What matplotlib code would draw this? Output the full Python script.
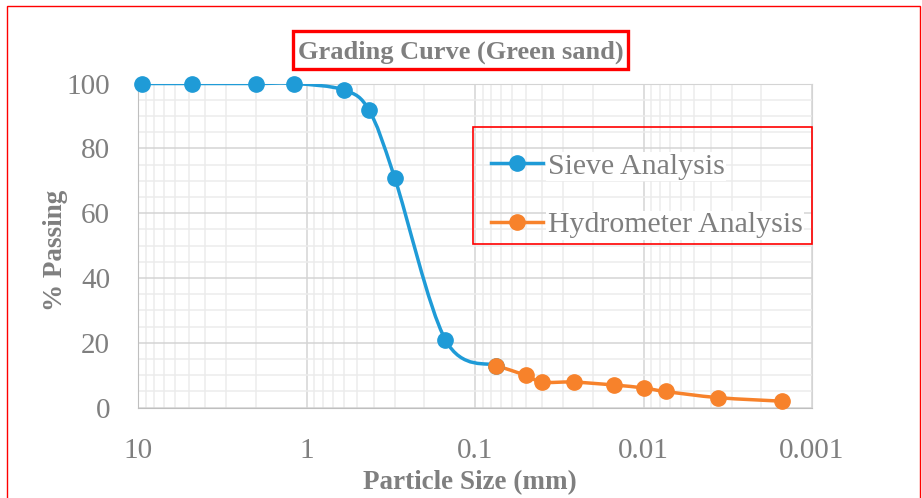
import numpy as np
import matplotlib
matplotlib.use("Agg")
from matplotlib import pyplot as plt
from matplotlib.path import Path
from matplotlib.patches import PathPatch, Rectangle
from matplotlib.lines import Line2D
from matplotlib.ticker import LogLocator, FixedLocator, NullFormatter

# Sieve analysis (particle size in mm, % passing)
sieve_size = [9.5, 4.75, 2.0, 1.18, 0.6, 0.425, 0.3, 0.15, 0.075]
sieve_pass = [100, 100, 100, 100, 98, 91.7, 71, 21, 13]

# Hydrometer analysis
hydro_size = [0.075, 0.05, 0.04, 0.026, 0.015, 0.01, 0.0074, 0.0036, 0.0015]
hydro_pass = [13, 10, 7.9, 7.9, 7.0, 6.1, 5.0, 3.1, 2.0]

x_ticks = [10, 1, 0.1, 0.01, 0.001]
x_tick_labels = ["10", "1", "0.1", "0.01", "0.001"]
y_ticks = [0, 20, 40, 60, 80, 100]

blue = "#1f9bd7"
orange = "#f7822b"
grey_txt = "#7f7f7f"

plt.rcParams["font.family"] = ["Liberation Serif", "DejaVu Serif"]

W, H = 922, 498


def smooth_path(xs, ys):
    # Excel-like smoothed line: cubic bezier segments, control points from neighbours
    u = np.log10(np.array(xs, dtype=float))
    v = np.array(ys, dtype=float)
    n = len(u)
    verts = [(xs[0], ys[0])]
    codes = [Path.MOVETO]
    for i in range(n - 1):
        a = max(i - 1, 0)
        b = min(i + 2, n - 1)
        c1u = u[i] + (u[i + 1] - u[a]) / 6
        c1v = v[i] + (v[i + 1] - v[a]) / 6
        c2u = u[i + 1] - (u[b] - u[i]) / 6
        c2v = v[i + 1] - (v[b] - v[i]) / 6
        verts += [(10 ** c1u, c1v), (10 ** c2u, c2v), (xs[i + 1], ys[i + 1])]
        codes += [Path.CURVE4] * 3
    return Path(verts, codes)


fig = plt.figure(figsize=(W / 100, H / 100), dpi=100)
ax = fig.add_axes([138 / W, 1 - 407.7 / H, (812 - 138) / W, (407.7 - 83.5) / H])

ax.set_xscale("log")
ax.set_xlim(10, 0.001)
ax.set_ylim(0, 100)

for xs, ys, col in [(sieve_size, sieve_pass, blue), (hydro_size, hydro_pass, orange)]:
    ax.add_patch(PathPatch(smooth_path(xs, ys), fill=False, edgecolor=col,
                           linewidth=2.5, capstyle="round", joinstyle="round", zorder=3))
    ax.plot(xs, ys, linestyle="none", marker="o", markersize=11, color=col,
            clip_on=False, zorder=4)

ax.xaxis.set_major_locator(FixedLocator(x_ticks))
ax.set_xticklabels(x_tick_labels)
ax.xaxis.set_minor_locator(LogLocator(base=10, subs=np.arange(2, 10)))
ax.xaxis.set_minor_formatter(NullFormatter())
ax.set_yticks(y_ticks)
ax.yaxis.set_minor_locator(FixedLocator(np.arange(0, 101, 5)))

ax.grid(which="major", color="#d4d4d4", linewidth=1.1)
ax.grid(which="minor", color="#ececec", linewidth=1.1)
ax.set_axisbelow(True)
for s in ax.spines.values():
    s.set_color("#d4d4d4")
ax.spines["left"].set_color("#bfbfbf")
ax.spines["bottom"].set_color("#bfbfbf")

ax.tick_params(which="both", length=0, labelsize=21, labelcolor=grey_txt)
ax.tick_params(axis="y", pad=20)
ax.tick_params(axis="x", pad=22)

ax.set_xlabel("Particle Size (mm)", fontsize=19.5, fontweight="bold", color=grey_txt,
              va="center")
ax.xaxis.set_label_coords((470 - 138) / 674, (407.7 - 483) / 324.2)
ax.set_ylabel("% Passing", fontsize=19.5, fontweight="bold", color=grey_txt,
              va="center", ha="center")
ax.yaxis.set_label_coords((55 - 138) / 674, (407.7 - 250) / 324.2)

fig.text(461 / W, 1 - 52 / H, "Grading Curve (Green sand)", fontsize=19, fontweight="bold",
         color=grey_txt, ha="center", va="center")

handles = [Line2D([], [], color=blue, linewidth=2.5, marker="o", markersize=11),
           Line2D([], [], color=orange, linewidth=2.5, marker="o", markersize=11)]
leg = fig.legend(handles, ["Sieve Analysis", "Hydrometer Analysis"], loc="upper left",
                 bbox_to_anchor=(476 / W, 1 - 138 / H), frameon=False, fontsize=21.5,
                 handlelength=1.75, handletextpad=0.15, labelspacing=1.05, borderpad=0)
for t in leg.get_texts():
    t.set_color(grey_txt)
    t.set_bbox(dict(facecolor="white", edgecolor="none", pad=1))

# red boxes
fig.patches.append(Rectangle((293 / W, 1 - 69 / H), 335 / W, 38 / H, transform=fig.transFigure,
                             fill=False, edgecolor="red", linewidth=2.4))
fig.patches.append(Rectangle((473 / W, 1 - 244 / H), 339 / W, 117 / H, transform=fig.transFigure,
                             fill=False, edgecolor="red", linewidth=1.2, zorder=8))
fig.patches.append(Rectangle((7 / W, 1 - 510 / H), 913 / W, 504 / H, transform=fig.transFigure,
                             fill=False, edgecolor="red", linewidth=1.0))

fig.savefig("out.png", dpi=100)
